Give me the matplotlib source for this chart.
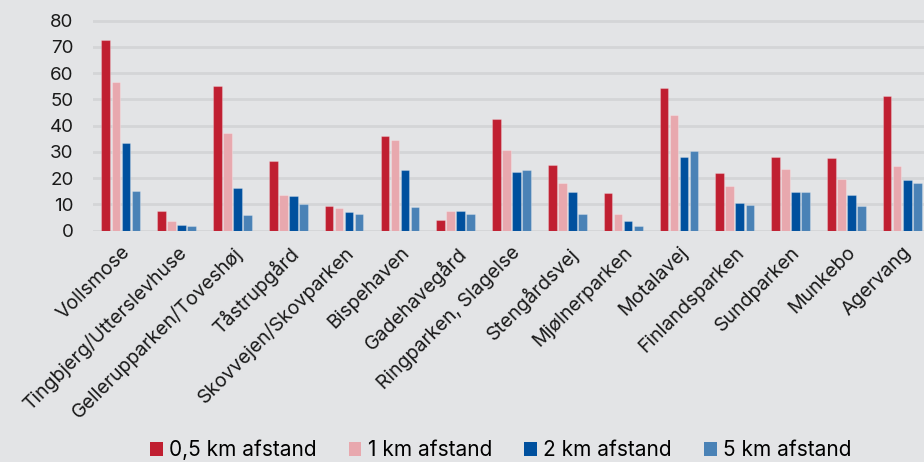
import matplotlib
matplotlib.use("Agg")
import matplotlib.pyplot as plt
import numpy as np

plt.rcParams['font.family'] = ['Inter', 'DejaVu Sans']

### data
areas = ["Vollsmose", "Tingbjerg/Utterslevhuse", "Gellerupparken/Toveshøj",
         "Tåstrupgård", "Skovvejen/Skovparken", "Bispehaven", "Gadehavegård",
         "Ringparken, Slagelse", "Stengårdsvej", "Mjølnerparken", "Motalavej",
         "Finlandsparken", "Sundparken", "Munkebo", "Agervang"]
km05 = [72.8, 7.4, 55.1, 26.6, 9.3, 36.0, 4.0, 42.4, 25.0, 14.2, 54.2, 22.0, 28.1, 27.7, 51.2]
km1 = [56.5, 3.6, 37.2, 13.5, 8.8, 34.4, 7.4, 30.7, 18.3, 6.2, 44.0, 17.0, 23.5, 19.8, 24.6]
km2 = [33.4, 2.1, 16.2, 13.1, 7.2, 23.0, 7.4, 22.5, 14.6, 3.8, 28.1, 10.6, 14.6, 13.5, 19.2]
km5 = [15.2, 1.8, 6.0, 10.2, 6.2, 9.0, 6.5, 23.0, 6.2, 1.8, 30.4, 9.8, 14.6, 9.3, 18.3]
series_labels = ["0,5 km afstand", "1 km afstand", "2 km afstand", "5 km afstand"]
colors = ["#C01F31", "#E8A8AE", "#00509E", "#4A82B6"]

bg = "#E3E4E6"
fig = plt.figure(figsize=(9.24, 4.62), dpi=100, facecolor=bg)
ax = fig.add_axes([0.1006, 0.5007, 0.906, 0.4659], facecolor=bg)

x = np.arange(len(areas))
step = 0.18
width = 0.155
for k, (vals, lab, c) in enumerate(zip([km05, km1, km2, km5], series_labels, colors)):
    ax.bar(x + (k - 1.5) * step, vals, width, color=c, label=lab,
           edgecolor=(1, 1, 1, 0.25), linewidth=0.8, zorder=3)

ax.set_xlim(-0.5, len(areas) - 0.5)
ax.set_ylim(0, 82)
ax.set_yticks(range(0, 81, 10))
ax.grid(axis='y', color="#D4D5D7", linewidth=2, zorder=0)
ax.set_axisbelow(True)
for s in ax.spines.values():
    s.set_visible(False)

ax.tick_params(axis='y', length=0, pad=14, labelsize=13.5, labelcolor="#1A1A1A")
ax.tick_params(axis='x', length=0, pad=9, labelsize=14, labelcolor="#1A1A1A")
ax.set_xticks(x)
ax.set_xticklabels(areas, rotation=45, ha='right', rotation_mode='anchor')

leg = fig.legend(loc='center', bbox_to_anchor=(0.542, 0.026), ncol=4, frameon=False,
                 fontsize=15, handlelength=0.6, handleheight=0.6, handletextpad=0.3,
                 columnspacing=1.55)
for h in leg.legend_handles:
    h.set_edgecolor('none')

fig.savefig("out.png", dpi=100, facecolor=bg)
